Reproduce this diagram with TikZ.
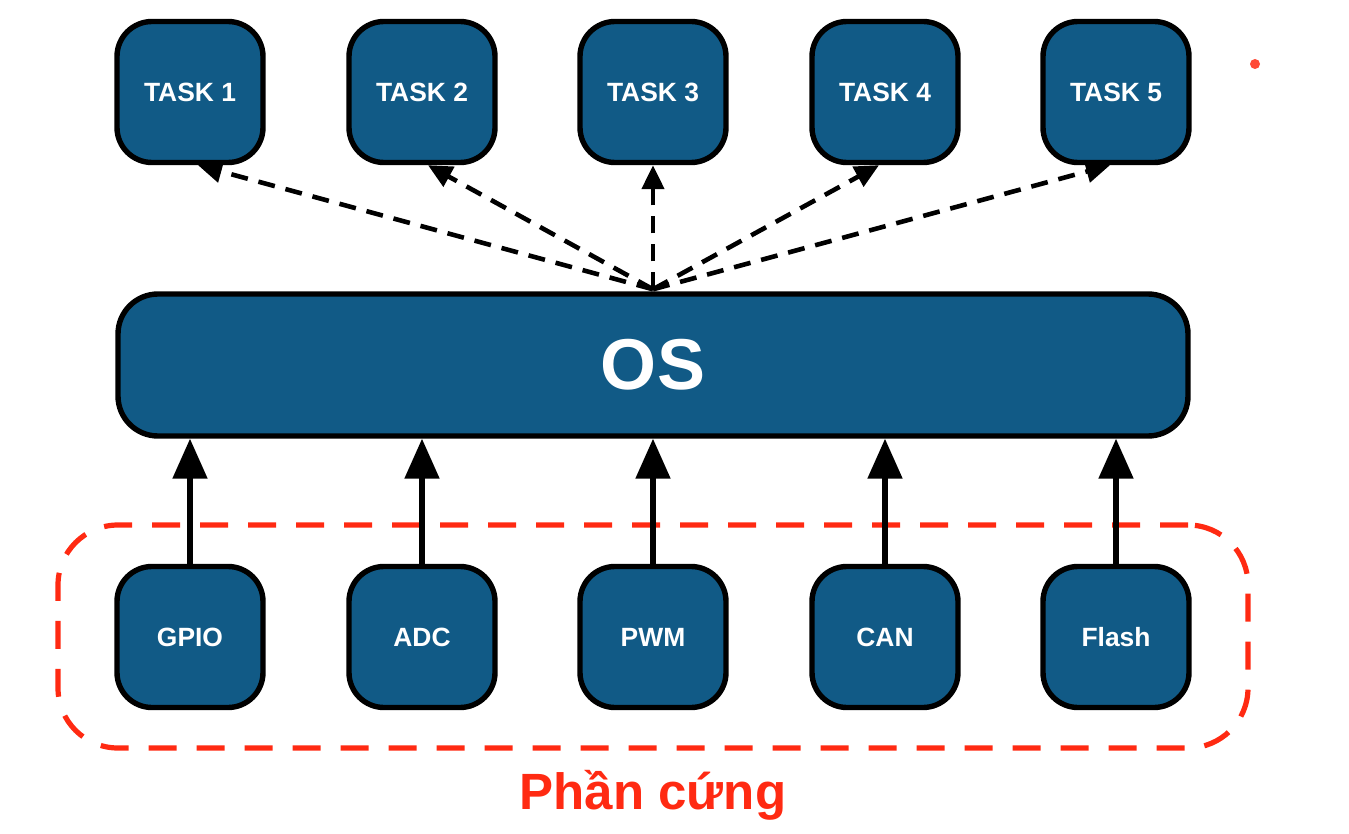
\documentclass[tikz,border=0pt]{standalone}
\usepackage{fontspec}
\setmainfont{Liberation Sans}
\usetikzlibrary{arrows.meta}
\definecolor{boxblue}{HTML}{115A86}
\definecolor{hwred}{HTML}{FF2A12}
\tikzset{
  box/.style={draw=black, line width=2.7pt, fill=boxblue, rounded corners=17.5pt,
    minimum width=73pt, minimum height=70.5pt, text=white, font=\bfseries\fontsize{13.2}{15}\selectfont, inner sep=0pt},
  osbox/.style={draw=black, line width=2.7pt, fill=boxblue, rounded corners=20pt,
    minimum width=535pt, minimum height=71pt, text=white, font=\bfseries\fontsize{36}{40}\selectfont, inner sep=0pt},
  up/.style={line width=2.6pt, -{Triangle[length=20pt,width=17pt]}},
  dash up/.style={line width=2.3pt, dash pattern=on 8.5pt off 5.5pt, -{Triangle[length=12pt,width=11pt]}},
  hwframe/.style={draw=hwred, line width=2.6pt, dash pattern=on 14pt off 10pt, rounded corners=30pt,
    minimum width=595pt, minimum height=111.5pt, inner sep=0pt},
}
\begin{document}
\begin{tikzpicture}[x=0.5pt, y=-0.5pt]
\useasboundingbox (0,0) rectangle (1349,834);
\node[hwframe] (hw) at (653,636.5) {};
\node[box] (t1) at (190,92) {TASK 1};
\node[box] (t2) at (422,92) {TASK 2};
\node[box] (t3) at (653,92) {TASK 3};
\node[box] (t4) at (885,92) {TASK 4};
\node[box] (t5) at (1116,92) {TASK 5};
\node[osbox] (os) at (653,365) {OS};
\node[box] (b1) at (190,637) {GPIO};
\node[box] (b2) at (422,637) {ADC};
\node[box] (b3) at (653,637) {PWM};
\node[box] (b4) at (885,637) {CAN};
\node[box] (b5) at (1116,637) {Flash};
\draw[up] (b1.north) -- (b1.north |- os.south);
\draw[up] (b2.north) -- (b2.north |- os.south);
\draw[up] (b3.north) -- (b3.north |- os.south);
\draw[up] (b4.north) -- (b4.north |- os.south);
\draw[up] (b5.north) -- (b5.north |- os.south);
\coordinate (src) at ([yshift=1pt]os.north);
\draw[dash up] (src) -- ([xshift=4pt]t1.south);
\draw[dash up] (src) -- ([xshift=3pt]t2.south);
\draw[dash up] (src) -- (t3.south);
\draw[dash up] (src) -- ([xshift=-3pt]t4.south);
\draw[dash up] (src) -- ([xshift=-3pt]t5.south);
\node[text=hwred, font=\bfseries\fontsize{25.5}{30}\selectfont] (lbl) at (653,795) {Phần cứng};
\fill[hwred!85] (1255,64) circle (2.5pt);
\end{tikzpicture}
\end{document}
